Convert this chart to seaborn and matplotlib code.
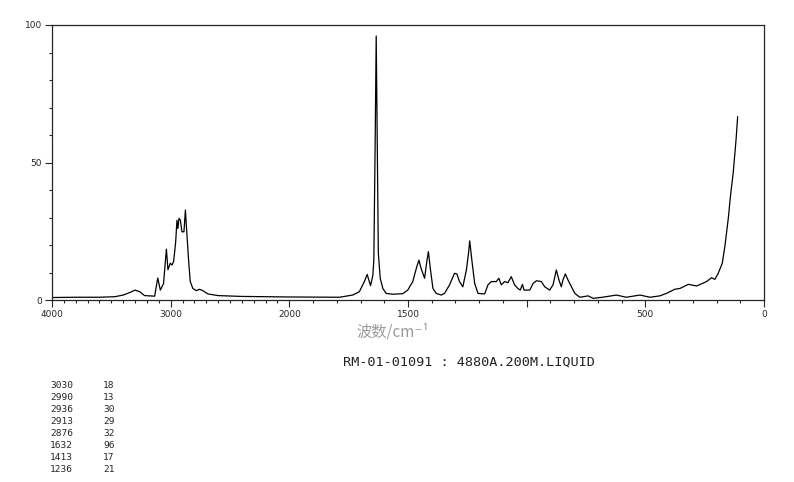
import matplotlib
matplotlib.use("Agg")
import matplotlib.pyplot as plt
from matplotlib.ticker import FixedLocator, MultipleLocator
import numpy as np
import pandas as pd
import seaborn as sns

# spectrum (wavenumber cm-1, relative intensity)
wavenumber = [4000, 3800, 3600, 3470, 3400, 3340, 3300, 3260, 3220, 3135, 3109,
              3087, 3060, 3036, 3023, 3003, 2989, 2975, 2958, 2947, 2939, 2930,
              2918, 2905, 2888, 2876, 2863, 2849, 2835, 2813, 2784, 2756, 2729,
              2686, 2600, 2400, 2200, 2000, 1789, 1733, 1705, 1684, 1672, 1658,
              1648, 1644, 1638, 1634, 1630, 1625, 1617, 1606, 1592, 1564, 1522,
              1501, 1480, 1463, 1454, 1445, 1430, 1421, 1414, 1406, 1395, 1381,
              1360, 1346, 1325, 1304, 1294, 1283, 1269, 1254, 1245, 1240, 1229,
              1219, 1205, 1177, 1163, 1149, 1128, 1117, 1107, 1093, 1079, 1065,
              1051, 1037, 1027, 1018, 1011, 987, 973, 959, 938, 924, 903, 889,
              875, 864, 854, 847, 837, 826, 811, 797, 776, 741, 720, 680, 622,
              580, 523, 480, 439, 411, 376, 354, 319, 284, 242, 221, 207, 193,
              176, 165, 158, 150, 143, 137, 130, 124, 118, 111]
intensity = [0.9, 1.0, 1.0, 1.2, 1.8, 2.8, 3.6, 3.0, 1.6, 1.4, 8.0,
             3.6, 6.0, 18.5, 11.0, 13.4, 12.7, 14.0, 21.0, 29.0, 26.0, 29.7,
             29.0, 24.8, 24.8, 32.7, 24.0, 14.5, 6.7, 4.2, 3.4, 3.9, 3.4,
             2.2, 1.6, 1.3, 1.2, 1.1, 1.0, 1.8, 3.0, 6.7, 9.3, 5.2,
             9.0, 14.5, 60.0, 96.0, 60.0, 17.0, 7.9, 4.2, 2.4, 2.1, 2.3,
             3.6, 6.7, 12.1, 14.5, 11.5, 7.9, 13.9, 17.6, 11.5, 4.2, 2.4,
             1.8, 2.4, 5.5, 9.7, 9.5, 6.7, 4.8, 10.9, 17.0, 21.5, 13.0,
             6.0, 2.4, 2.2, 5.5, 6.7, 6.7, 7.9, 5.5, 6.7, 6.3, 8.5,
             5.5, 4.2, 3.6, 5.7, 3.6, 3.6, 6.0, 7.0, 6.7, 4.8, 3.6, 5.5,
             10.9, 7.3, 4.8, 7.3, 9.5, 7.3, 4.8, 2.4, 1.0, 1.5, 0.6, 1.0, 1.8,
             1.0, 1.8, 1.0, 1.5, 2.4, 3.9, 4.2, 5.7, 5.1, 6.7, 8.1, 7.5, 9.7,
             13.3, 19.4, 24.2, 30.0, 36.4, 41.0, 46.0, 52.0, 58.0, 66.7]

peak_wn = [3030, 2990, 2936, 2913, 2876, 1632, 1413, 1236]
peak_int = [18, 13, 30, 29, 32, 96, 17, 21]

x_ticks = [4000, 3000, 2000, 1500, 1000, 500, 0]
x_ticklabels = ["4000", "3000", "2000", "1500", "", "500", "0"]
y_ticks = [0, 50, 100]

title = "RM-01-01091 : 4880A.200M.LIQUID"
xlabel = "波数/cm⁻¹"

df = pd.DataFrame({"wn": wavenumber, "I": intensity})

sns.set_style("ticks")
plt.rcParams["font.family"] = ["DejaVu Sans"]

fig = plt.figure(figsize=(7.94, 4.82), dpi=100)
ax = fig.add_axes([52 / 794, 1 - 300 / 482, (764 - 52) / 794, (300 - 25) / 482])


# axis compressed by 2 above 2000 cm-1
def fwd(w):
    w = np.asarray(w, dtype=float)
    return np.where(w > 2000, 2000 + (w - 2000) / 2, w)


def inv(u):
    u = np.asarray(u, dtype=float)
    return np.where(u > 2000, 2000 + (u - 2000) * 2, u)


ax.set_xscale("function", functions=(fwd, inv))
sns.lineplot(data=df, x="wn", y="I", sort=False, estimator=None,
             color="black", linewidth=0.9, ax=ax)
ax.set_xlim(4000, 0)
ax.set_ylim(0, 100)

ax.xaxis.set_major_locator(FixedLocator(x_ticks))
ax.set_xticklabels(x_ticklabels)
ax.xaxis.set_minor_locator(MultipleLocator(100))
ax.yaxis.set_major_locator(FixedLocator(y_ticks))
ax.yaxis.set_minor_locator(MultipleLocator(10))
ax.tick_params(which="major", direction="out", length=5, width=0.8,
               labelsize=6.5, pad=2)
ax.tick_params(which="minor", direction="out", length=2.5, width=0.8)
ax.set_xlabel("")
ax.set_ylabel("")
for s in ax.spines.values():
    s.set_linewidth(0.9)

fig.text(393 / 794, 1 - 332 / 482, xlabel, ha="center", va="center",
         fontsize=11, color="#9a9a9a",
         family=["Noto Sans CJK SC", "DejaVu Sans"])
fig.text(343 / 794, 1 - 362 / 482, title, ha="left", va="center",
         fontsize=9.7, family="DejaVu Sans Mono", color="#222222")

for i, (w, v) in enumerate(zip(peak_wn, peak_int)):
    y = 1 - (386 + i * 12) / 482
    fig.text(50 / 794, y, str(w), ha="left", va="center", fontsize=6.8,
             family="DejaVu Sans Mono")
    fig.text(103 / 794, y, str(v), ha="left", va="center", fontsize=6.8,
             family="DejaVu Sans Mono")

fig.savefig("out.png", dpi=100)
